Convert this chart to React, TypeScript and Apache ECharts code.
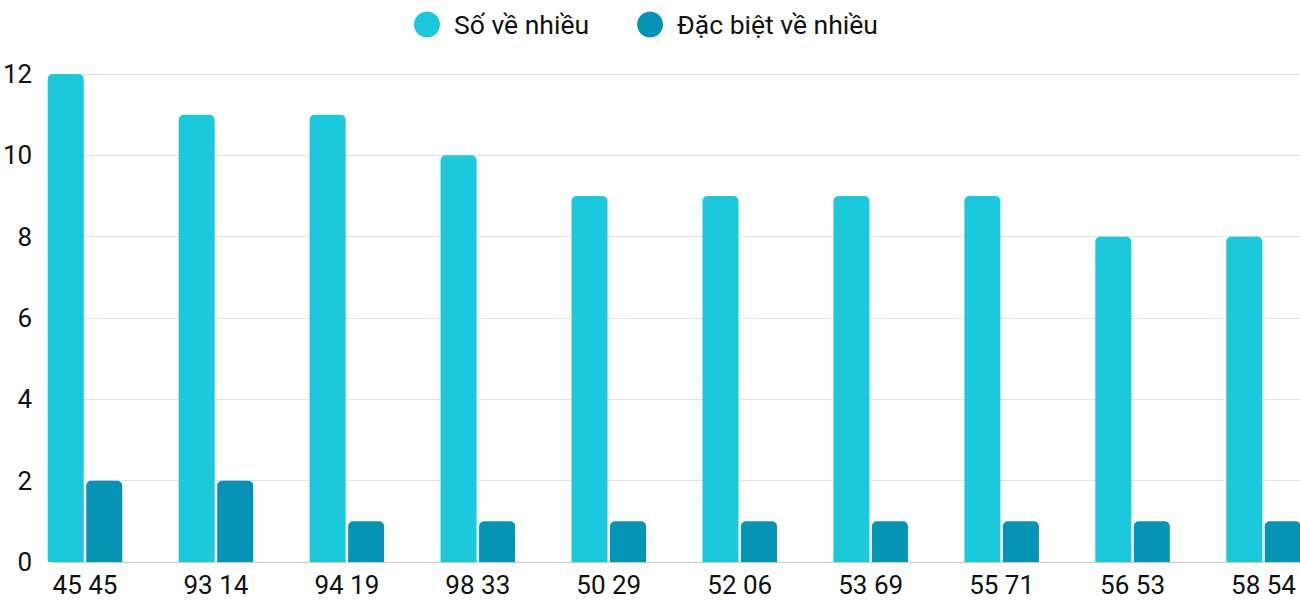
import React, { useEffect, useRef } from "react";
import * as echarts from "echarts";

const categories = ["45 45", "93 14", "94 19", "98 33", "50 29", "52 06", "53 69", "55 71", "56 53", "58 54"];
const soVeNhieu = [12, 11, 11, 10, 9, 9, 9, 9, 8, 8];
const dacBietVeNhieu = [2, 2, 1, 1, 1, 1, 1, 1, 1, 1];
const seriesNames = ["Số về nhiều", "Đặc biệt về nhiều"];
const colors = ["#1BC8DC", "#0594B6"];

export default function App() {
  const ref = useRef<HTMLDivElement>(null);
  useEffect(() => {
    document.body.style.margin = "0";
    document.body.style.overflow = "hidden";
    document.documentElement.style.overflow = "hidden";
    const chart = echarts.init(ref.current!, null, { renderer: "svg" });
    const font = "Roboto";
    chart.setOption({
      animation: false,
      textStyle: { fontFamily: font },
      legend: {
        top: 6,
        left: 409,
        icon: "circle",
        itemWidth: 26,
        itemHeight: 26,
        itemGap: 48,
        textStyle: { fontSize: 26.5, color: "#111", fontFamily: font, padding: [0, 0, 0, 9] },
        data: seriesNames,
      },
      grid: [
        { left: 48, right: 29, top: 74, bottom: 38 },
        { left: 19.5, right: 0, top: 74, bottom: 38 },
      ],
      xAxis: [
        {
          gridIndex: 0,
          type: "category",
          data: categories,
          axisLine: { show: true, lineStyle: { color: "#cccccc", width: 1 } },
          axisTick: { show: false },
          axisLabel: { show: false },
        },
        {
          gridIndex: 1,
          type: "category",
          data: categories,
          axisLine: { show: false },
          axisTick: { show: false },
          axisLabel: { fontSize: 26, color: "#111", fontFamily: font, margin: 10 },
        },
      ],
      yAxis: [
        {
          gridIndex: 0,
          type: "value",
          min: 0,
          max: 12,
          interval: 2,
          axisLine: { show: false },
          axisTick: { show: false },
          splitLine: { lineStyle: { color: "#e3e3e3" } },
          axisLabel: { fontSize: 26, color: "#111", fontFamily: font, margin: 20 },
        },
        {
          gridIndex: 1,
          type: "value",
          min: 0,
          max: 12,
          interval: 2,
          show: false,
          splitLine: { show: false },
        },
      ],
      series: [
        {
          name: seriesNames[0],
          type: "bar",
          xAxisIndex: 1,
          yAxisIndex: 1,
          data: soVeNhieu,
          barWidth: 36,
          barGap: "7%",
          itemStyle: { color: colors[0], borderRadius: [5, 5, 0, 0] },
        },
        {
          name: seriesNames[1],
          type: "bar",
          xAxisIndex: 1,
          yAxisIndex: 1,
          data: dacBietVeNhieu,
          barWidth: 36,
          barGap: "7%",
          itemStyle: { color: colors[1], borderRadius: [5, 5, 0, 0] },
        },
      ],
    });
    return () => chart.dispose();
  }, []);
  return <div ref={ref} style={{ width: 1329, height: 600 }} />;
}
